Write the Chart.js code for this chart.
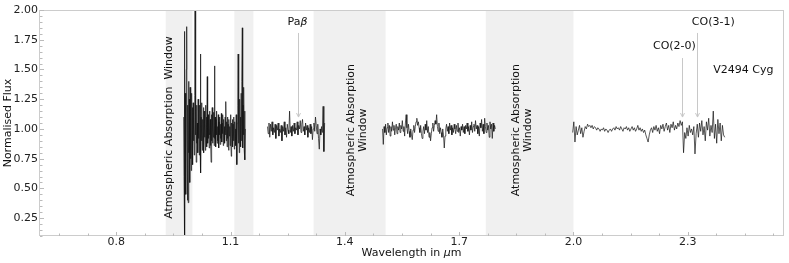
<!DOCTYPE html>
<html>
<head>
<meta charset="utf-8">
<script src="https://cdn.jsdelivr.net/npm/chart.js@4/dist/chart.umd.min.js"></script>
<style>
  html, body { margin: 0; padding: 0; background: #fff; }
</style>
</head>
<body>
<canvas id="myChart" width="789" height="263"></canvas>
<script>
// Spectrum of V2494 Cyg, four pieces between the telluric windows.
// Each piece: first wavelength, sampling step (um), and normalised flux values.
var segStart = [0.977, 1.197, 1.499, 1.998];
var segStep = [0.001, 0.002, 0.002, 0.003];

var fluxZJ = [
  1.10, 0.60, 1.82, 0.05, 1.30, 0.70, 0.45, 1.50, 1.86, 0.90,
  0.40, 1.20, 0.38, 1.40, 0.80, 1.25, 0.55, 1.35, 0.75, 1.15,
  0.65, 1.30, 0.85, 1.18, 0.70, 1.22, 0.90, 1.10, 0.78, 1.28,
  2.30, 0.95, 1.15, 0.72, 1.20, 0.88, 1.05, 0.80, 1.25, 0.92,
  1.12, 0.78, 1.20, 0.85, 1.63, 0.63, 1.10, 0.90, 1.22, 0.82,
  1.08, 0.88, 1.18, 0.80, 1.15, 0.93, 1.05, 0.82, 1.20, 0.90,
  1.10, 0.85, 1.44, 0.88, 1.12, 0.92, 1.06, 0.84, 1.15, 0.95,
  1.08, 0.86, 0.72, 1.12, 0.90, 1.18, 0.88, 1.05, 0.93, 1.14,
  0.86, 1.53, 0.92, 1.10, 0.85, 1.08, 0.95, 1.15, 0.88, 1.02,
  0.90, 1.12, 0.84, 1.06, 0.95, 1.10, 0.87, 1.04, 0.92, 1.13,
  0.89, 1.05, 0.96, 1.12, 0.86, 1.08, 0.93, 1.02, 0.88, 1.10,
  0.95, 1.23, 0.90, 1.06, 0.85, 1.10, 0.92, 1.04, 0.82, 1.08,
  0.94, 1.02, 0.86, 1.12, 0.90, 0.77, 1.05, 0.92, 1.08, 0.85,
  1.04, 0.90, 1.10, 0.83, 1.06, 0.95, 1.00, 0.86, 1.12, 0.92,
  0.70, 1.05, 1.20, 1.63, 0.88, 1.15, 0.80, 1.25, 0.92, 1.10,
  0.85, 1.30, 0.90, 1.40, 1.85, 0.84, 1.20, 0.95, 1.35, 0.82,
  1.15, 0.74, 1.00
];
var fluxJ = [
  1.02, 0.96, 1.05, 0.93, 1.04, 0.98, 1.06, 0.95, 1.01, 0.97,
  1.04, 0.92, 1.03, 0.99, 1.05, 0.94, 1.00, 0.97, 1.03, 0.90,
  1.02, 0.98, 1.06, 0.95, 1.01, 0.93, 1.04, 0.99, 0.96, 1.15,
  0.97, 1.02, 0.94, 1.03, 0.98, 1.05, 0.96, 1.01, 0.99, 1.06,
  0.95, 1.03, 1.00, 1.07, 0.97, 1.04, 1.08, 0.98, 1.02, 0.95,
  1.05, 0.99, 1.03, 0.93, 1.01, 0.97, 1.04, 0.96, 1.02, 0.91,
  1.00, 1.05, 0.98, 1.10, 1.03, 0.96, 1.04, 0.92, 0.83, 1.00,
  0.95, 1.02, 0.97, 1.19, 0.81, 1.05
];
var fluxH = [
  1.00, 0.87, 1.02, 0.97, 1.04, 0.95, 1.01, 1.05, 0.97, 1.03,
  0.94, 1.02, 0.98, 1.06, 0.99, 1.03, 0.95, 1.01, 1.04, 0.96,
  1.02, 0.99, 1.05, 0.97, 1.03, 1.00, 1.07, 0.98, 1.02, 0.94,
  1.05, 1.12, 1.01, 0.96, 1.04, 0.98, 0.93, 1.00, 0.95, 0.91,
  0.99, 1.03, 0.97, 1.02, 1.06, 1.09, 1.03, 1.06, 1.01, 0.97,
  1.03, 0.96, 0.92, 0.98, 1.02, 0.96, 1.04, 0.99, 1.07, 0.97,
  1.02, 0.93, 0.97, 0.90, 0.96, 1.01, 1.05, 0.98, 1.03, 1.07,
  1.04, 1.12, 1.02, 0.98, 1.05, 0.96, 1.01, 0.97, 0.93, 1.00,
  0.95, 0.84, 0.94, 1.00, 1.04, 0.98, 1.02, 0.96, 1.05, 0.99,
  1.03, 0.95, 1.01, 0.97, 1.04, 1.00, 0.96, 1.03, 0.98, 1.05,
  0.97, 1.01, 0.94, 1.02, 0.99, 1.04, 0.97, 1.02, 0.96, 1.03,
  1.00, 1.05, 0.98, 1.02, 0.95, 1.03, 0.99, 1.06, 0.97, 1.02,
  1.04, 0.98, 1.07, 1.00, 1.03, 0.96, 1.02, 0.94, 1.05, 1.01,
  1.08, 0.98, 1.04, 0.96, 1.09, 1.02, 0.97, 1.05, 0.99, 1.03,
  0.93, 1.06, 1.00, 1.04, 0.92, 1.05, 0.98, 1.03, 1.00
];
var fluxK = [
  0.97, 1.06, 0.89, 1.02, 0.95, 0.99, 1.03, 0.96, 1.01, 0.93,
  0.98, 1.02, 1.00, 1.04, 1.02, 1.03, 1.01, 1.03, 1.00, 1.02,
  1.01, 0.99, 1.01, 1.00, 0.98, 1.00, 0.99, 1.01, 0.98, 1.00,
  0.99, 0.97, 0.99, 1.00, 0.98, 1.00, 1.01, 0.99, 1.02, 1.00,
  1.01, 0.99, 1.02, 1.00, 0.98, 1.01, 1.00, 1.02, 0.99, 1.01,
  0.98, 1.00, 1.02, 0.99, 1.01, 0.98, 1.00, 1.03, 0.99, 1.01,
  0.98, 1.00, 0.97, 0.99, 0.95, 0.92, 0.89, 0.95, 0.99, 1.01,
  0.97, 1.02, 0.99, 1.03, 0.98, 1.01, 0.96, 1.03, 1.00, 1.04,
  0.98, 1.02, 1.05, 0.99, 1.03, 0.97, 1.04, 1.01, 1.06, 0.99,
  1.03, 1.00, 1.05, 1.02, 1.07, 1.03, 1.06, 0.80, 0.97, 0.92,
  1.01, 0.94, 1.03, 0.97, 1.00, 0.95, 1.02, 0.79, 0.96, 1.04,
  0.93, 1.05, 0.98, 1.07, 0.95, 1.02, 0.90, 1.06, 0.99, 1.09,
  0.94, 1.03, 0.97, 1.15, 0.92, 1.04, 0.88, 1.08, 0.96, 1.05,
  0.90, 1.03, 0.95, 0.93
];

// Atmospheric absorption windows (shaded)
var bandStart = [0.93, 1.11, 1.318, 1.77];
var bandEnd = [1.0, 1.16, 1.507, 2.0];

// Marked lines
var lineNames = ["Pa", "CO(2-0)", "CO(3-1)"];
var lineWl = [1.277, 2.286, 2.325];

// Tick labels
var tickX = [0.8, 1.1, 1.4, 1.7, 2.0, 2.3];
var tickY = [0.25, 0.5, 0.75, 1.0, 1.25, 1.5, 1.75, 2.0];

var FONT = "'DejaVu Sans', sans-serif";

function makePoints(k, flux) {
  return flux.map(function (f, i) {
    return { x: segStart[k] + i * segStep[k], y: f };
  });
}

var allFlux = [fluxZJ, fluxJ, fluxH, fluxK];
var datasets = allFlux.map(function (flux, k) {
  return {
    data: makePoints(k, flux),
    borderColor: "#111",
    borderWidth: 0.7,
    pointRadius: 0,
    fill: false,
    tension: 0,
  };
});

function drawVertical(ctx, lines, px, py, gap) {
  ctx.save();
  ctx.translate(px, py);
  ctx.rotate(-Math.PI / 2);
  ctx.textAlign = "center";
  ctx.textBaseline = "middle";
  var off = -(lines.length - 1) * gap / 2;
  lines.forEach(function (t, i) {
    ctx.fillText(t, 0, off + i * gap);
  });
  ctx.restore();
}

function drawParts(ctx, parts, cx, cy, size) {
  var w = 0;
  parts.forEach(function (p) {
    ctx.font = (p.it ? "italic " : "") + size + "px " + FONT;
    p.w = ctx.measureText(p.t).width;
    w += p.w;
  });
  var x = cx - w / 2;
  ctx.textAlign = "left";
  ctx.textBaseline = "middle";
  parts.forEach(function (p) {
    ctx.font = (p.it ? "italic " : "") + size + "px " + FONT;
    ctx.fillText(p.t, x, cy);
    x += p.w;
  });
}

function arrow(ctx, px, y0, y1) {
  ctx.beginPath();
  ctx.moveTo(px, y0);
  ctx.lineTo(px, y1);
  ctx.moveTo(px - 2, y1 - 4);
  ctx.lineTo(px, y1);
  ctx.lineTo(px + 2, y1 - 4);
  ctx.stroke();
}

var overlay = {
  id: "overlay",
  beforeDatasetsDraw: function (chart) {
    var ctx = chart.ctx, a = chart.chartArea;
    var x = chart.scales.x, y = chart.scales.y;
    ctx.save();
    ctx.fillStyle = "#f0f0f0";
    for (var i = 0; i < bandStart.length; i++) {
      var x0 = x.getPixelForValue(bandStart[i]);
      var x1 = x.getPixelForValue(bandEnd[i]);
      ctx.fillRect(x0, a.top, x1 - x0, a.bottom - a.top);
    }
    ctx.fillStyle = "#111";
    ctx.font = "11px " + FONT;
    drawVertical(ctx, ["Atmospheric Absorption  Window"],
      x.getPixelForValue(0.939), y.getPixelForValue(1.012), 12);
    drawVertical(ctx, ["Atmospheric Absorption", "Window"],
      x.getPixelForValue(1.432), y.getPixelForValue(0.99), 12);
    drawVertical(ctx, ["Atmospheric Absorption", "Window"],
      x.getPixelForValue(1.865), y.getPixelForValue(0.99), 12);
    ctx.restore();
  },
  afterDraw: function (chart) {
    var ctx = chart.ctx, a = chart.chartArea;
    var x = chart.scales.x, y = chart.scales.y;
    ctx.save();

    // frame
    ctx.strokeStyle = "#cccccc";
    ctx.lineWidth = 1;
    ctx.strokeRect(Math.round(a.left) - 0.5, Math.round(a.top) + 0.5,
      Math.round(a.right - a.left) + 1, Math.round(a.bottom - a.top) - 1);

    // ticks, pointing inward
    ctx.strokeStyle = "#bbbbbb";
    ctx.beginPath();
    var v, p;
    for (v = 0.65; v < 2.55; v += 0.075) {
      p = Math.round(x.getPixelForValue(v)) + 0.5;
      var major = tickX.some(function (t) { return Math.abs(t - v) < 1e-6; });
      ctx.moveTo(p, a.bottom);
      ctx.lineTo(p, a.bottom - (major ? 4 : 2.5));
    }
    for (v = 0.1; v <= 2.0001; v += 0.05) {
      p = Math.round(y.getPixelForValue(v)) + 0.5;
      var majorY = tickY.some(function (t) { return Math.abs(t - v) < 1e-6; });
      ctx.moveTo(a.left, p);
      ctx.lineTo(a.left + (majorY ? 4 : 2.5), p);
    }
    ctx.stroke();

    // line markers
    ctx.strokeStyle = "#c8c8c8";
    ctx.lineWidth = 1;
    var tip = y.getPixelForValue(1.10);
    arrow(ctx, Math.round(x.getPixelForValue(lineWl[0])) + 0.5, y.getPixelForValue(1.807), tip);
    arrow(ctx, Math.round(x.getPixelForValue(lineWl[1])) + 0.5, y.getPixelForValue(1.596), tip);
    arrow(ctx, Math.round(x.getPixelForValue(lineWl[2])) + 0.5, y.getPixelForValue(1.807), tip);

    ctx.fillStyle = "#111";
    drawParts(ctx, [{ t: lineNames[0] }, { t: "\u03b2", it: true }],
      x.getPixelForValue(1.276), y.getPixelForValue(1.899), 11);
    drawParts(ctx, [{ t: lineNames[1] }],
      x.getPixelForValue(2.265), y.getPixelForValue(1.697), 11);
    drawParts(ctx, [{ t: lineNames[2] }],
      x.getPixelForValue(2.367), y.getPixelForValue(1.899), 11);
    ctx.font = "11px " + FONT;
    ctx.textAlign = "left";
    ctx.fillText("V2494 Cyg", x.getPixelForValue(2.367), y.getPixelForValue(1.495));

    // axis titles
    drawParts(ctx, [{ t: "Wavelength in " }, { t: "\u03bc", it: true }, { t: "m" }],
      (a.left + a.right) / 2, 253, 11);
    ctx.font = "11px " + FONT;
    drawVertical(ctx, ["Normalised Flux"], 8, (a.top + a.bottom) / 2, 12);
    ctx.restore();
  },
};

var config = {
  type: "line",
  data: { datasets: datasets },
  options: {
    responsive: false,
    animation: false,
    layout: { padding: { top: 10, right: 6, left: 0, bottom: 0 } },
    plugins: { legend: { display: false }, tooltip: { enabled: false } },
    scales: {
      x: {
        type: "linear",
        min: 0.6,
        max: 2.55,
        grid: { display: false, drawTicks: false },
        border: { display: false },
        afterBuildTicks: function (s) {
          s.ticks = tickX.map(function (t) { return { value: t }; });
        },
        afterFit: function (s) { s.height = 27; },
        ticks: {
          padding: 0,
          maxRotation: 0,
          color: "#222",
          font: { family: FONT, size: 11 },
          callback: function (v) { return v.toFixed(1); },
        },
      },
      y: {
        min: 0.1,
        max: 2.0,
        grid: { display: false, drawTicks: false },
        border: { display: false },
        afterBuildTicks: function (s) {
          s.ticks = tickY.map(function (t) { return { value: t }; });
        },
        afterFit: function (s) { s.width = 40; },
        ticks: {
          padding: 2,
          color: "#222",
          font: { family: FONT, size: 11 },
          callback: function (v) { return v.toFixed(2); },
        },
      },
    },
  },
  plugins: [overlay],
};

var myChart = new Chart(document.getElementById("myChart").getContext("2d"), config);
</script>
</body>
</html>
